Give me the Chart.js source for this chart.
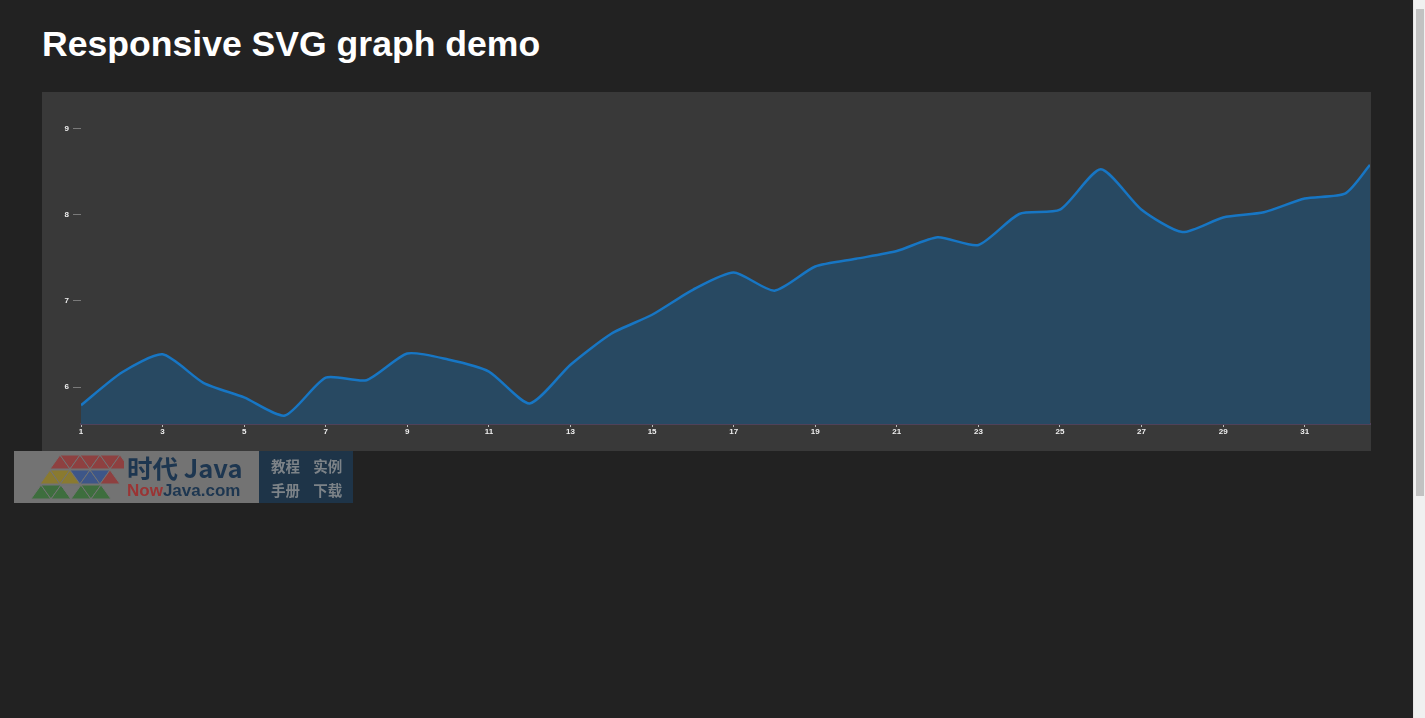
<!DOCTYPE html>
<html>
<head>
<meta charset="utf-8">
<script src="https://cdn.jsdelivr.net/npm/chart.js@4/dist/chart.umd.min.js"></script>
<style>
  html, body { margin: 0; padding: 0; background: #222222; width: 1425px; height: 718px; overflow: hidden; }
  #title { position: absolute; left: 42px; top: 24px; margin: 0; font: bold 35.6px "Liberation Sans", Arial, sans-serif; line-height: 40px; color: #ffffff; white-space: nowrap; }
  #box { position: absolute; left: 42px; top: 92px; width: 1329px; height: 359px; background: #393939; }
  #wm { position: absolute; left: 14px; top: 451px; width: 339px; height: 52px; }
  #wmL { position: absolute; left: 0; top: 0; width: 245px; height: 52px; background: #737373; }
  #wmR { position: absolute; left: 245px; top: 0; width: 94px; height: 52px; background: #1e3448; }
  .cn1 { position: absolute; left: 113px; top: 1px; font: bold 25.5px "Noto Sans CJK SC", "Liberation Sans", sans-serif; color: #1d3650; white-space: nowrap; line-height: 30px; }
  .cn2 { position: absolute; left: 113px; top: 30px; font: bold 17px "Liberation Sans", sans-serif; color: #1d3650; white-space: nowrap; line-height: 20px; }
  .cn2 span { color: #9a3434; }
  .rt { position: absolute; font: bold 14.5px "Noto Sans CJK SC", sans-serif; color: #7d8388; white-space: nowrap; line-height: 18px; }
  #sb { position: absolute; left: 1413px; top: 0; width: 12px; height: 718px; background: #f0f0f0; border-left: 1px solid #e6e6e6; box-sizing: border-box; }
  #thumb { position: absolute; left: 2px; top: 9px; width: 8px; height: 487px; background: #c2c2c2; }
</style>
</head>
<body>
<h1 id="title">Responsive SVG graph demo</h1>
<div id="box"><canvas id="c"></canvas></div>
<div id="wm">
  <div id="wmL">
    <svg id="logo" width="110" height="52" style="position:absolute;left:0;top:0"></svg>
    <div class="cn1">时代 Java</div>
    <div class="cn2"><span>Now</span>Java.com</div>
  </div>
  <div id="wmR">
    <div class="rt" style="left:12px;top:6px">教程&nbsp;&nbsp;&nbsp;&nbsp;实例</div>
    <div class="rt" style="left:12px;top:30px">手册&nbsp;&nbsp;&nbsp;&nbsp;下载</div>
  </div>
</div>
<div id="sb"><div id="thumb"></div></div>
<script>
// ---- data ----
const days = [1, 2, 3, 4, 5, 6, 7, 8, 9, 10, 11, 12, 13, 14, 15, 16, 17, 18, 19, 20, 21, 22, 23, 24, 25, 26, 27, 28, 29, 30, 31, 32, 32.6];
const values = [5.79, 6.17, 6.38, 6.05, 5.88, 5.67, 6.11, 6.08, 6.39, 6.32, 6.18, 5.81, 6.26, 6.62, 6.84, 7.13, 7.33, 7.12, 7.40, 7.49, 7.58, 7.74, 7.65, 8.01, 8.06, 8.53, 8.06, 7.80, 7.97, 8.03, 8.19, 8.25, 8.58];
const xTicks = [1, 3, 5, 7, 9, 11, 13, 15, 17, 19, 21, 23, 25, 27, 29, 31];
const yTicks = [6, 7, 8, 9];

// ---- watermark logo (decoration) ----
(function () {
  const svg = document.getElementById('logo');
  const rows = [
    { y: 4, cols: ['#8e4040', '#8e4040', '#8e4040', '#8e4040', '#8e4040', '#8e4040', '#8e4040'], x0: 36 },
    { y: 19, cols: ['#8a7a30', '#8a7a30', '#8a7a30', '#3d5688', '#3d5688', '#3d5688', '#8e4040'], x0: 26 },
    { y: 34, cols: ['#3e6e3e', '#3e6e3e', '#3e6e3e', '#737373', '#3e6e3e', '#3e6e3e', '#3e6e3e'], x0: 17 }
  ];
  const w = 20, h = 14;
  let s = '';
  rows.forEach(r => {
    r.cols.forEach((c, i) => {
      const x = r.x0 + i * w / 2;
      const up = i % 2 === 0;
      const pts = up
        ? [[x, r.y + h], [x + w / 2, r.y], [x + w, r.y + h]]
        : [[x, r.y], [x + w, r.y], [x + w / 2, r.y + h]];
      s += '<polygon points="' + pts.map(p => p.join(',')).join(' ') + '" fill="' + c + '" stroke="#737373" stroke-width="1"/>';
    });
  });
  svg.innerHTML = s;
})();

// ---- chart ----
const yMin = 5.5714, yMax = 9.3243;
new Chart(document.getElementById('c'), {
  type: 'line',
  data: {
    datasets: [{
      data: days.map((d, i) => ({ x: d, y: values[i] })),
      borderColor: '#1776c4',
      borderWidth: 2.5,
      backgroundColor: '#284962',
      fill: 'start',
      tension: 0.22,
      pointRadius: 0,
      pointHoverRadius: 0
    }]
  },
  options: {
    responsive: true,
    maintainAspectRatio: false,
    animation: false,
    events: [],
    layout: { padding: { top: 8, right: 1, left: 0, bottom: 0 } },
    plugins: { legend: { display: false }, tooltip: { enabled: false } },
    scales: {
      x: {
        type: 'linear',
        min: 1,
        max: 32.6,
        afterBuildTicks: s => { s.ticks = xTicks.map(v => ({ value: v })); },
        afterFit: s => { s.height = 27; },
        grid: { display: true, drawOnChartArea: false, drawTicks: true, tickLength: 3, color: '#bbbbbb' },
        border: { display: true, color: '#4f4259', width: 2 },
        ticks: {
          color: '#eeeeee',
          padding: 0,
          maxRotation: 0,
          autoSkip: false,
          font: { family: 'Liberation Sans', size: 8, weight: 'bold' }
        }
      },
      y: {
        type: 'linear',
        min: yMin,
        max: yMax,
        afterBuildTicks: s => { s.ticks = yTicks.map(v => ({ value: v })); },
        afterFit: s => { s.width = 39; },
        grid: { display: true, drawOnChartArea: false, drawTicks: true, tickLength: 8, color: '#7a7a7a' },
        border: { display: false },
        ticks: {
          color: '#eeeeee',
          padding: 4,
          font: { family: 'Liberation Sans', size: 8, weight: 'bold' }
        }
      }
    }
  }
});
</script>
</body>
</html>
